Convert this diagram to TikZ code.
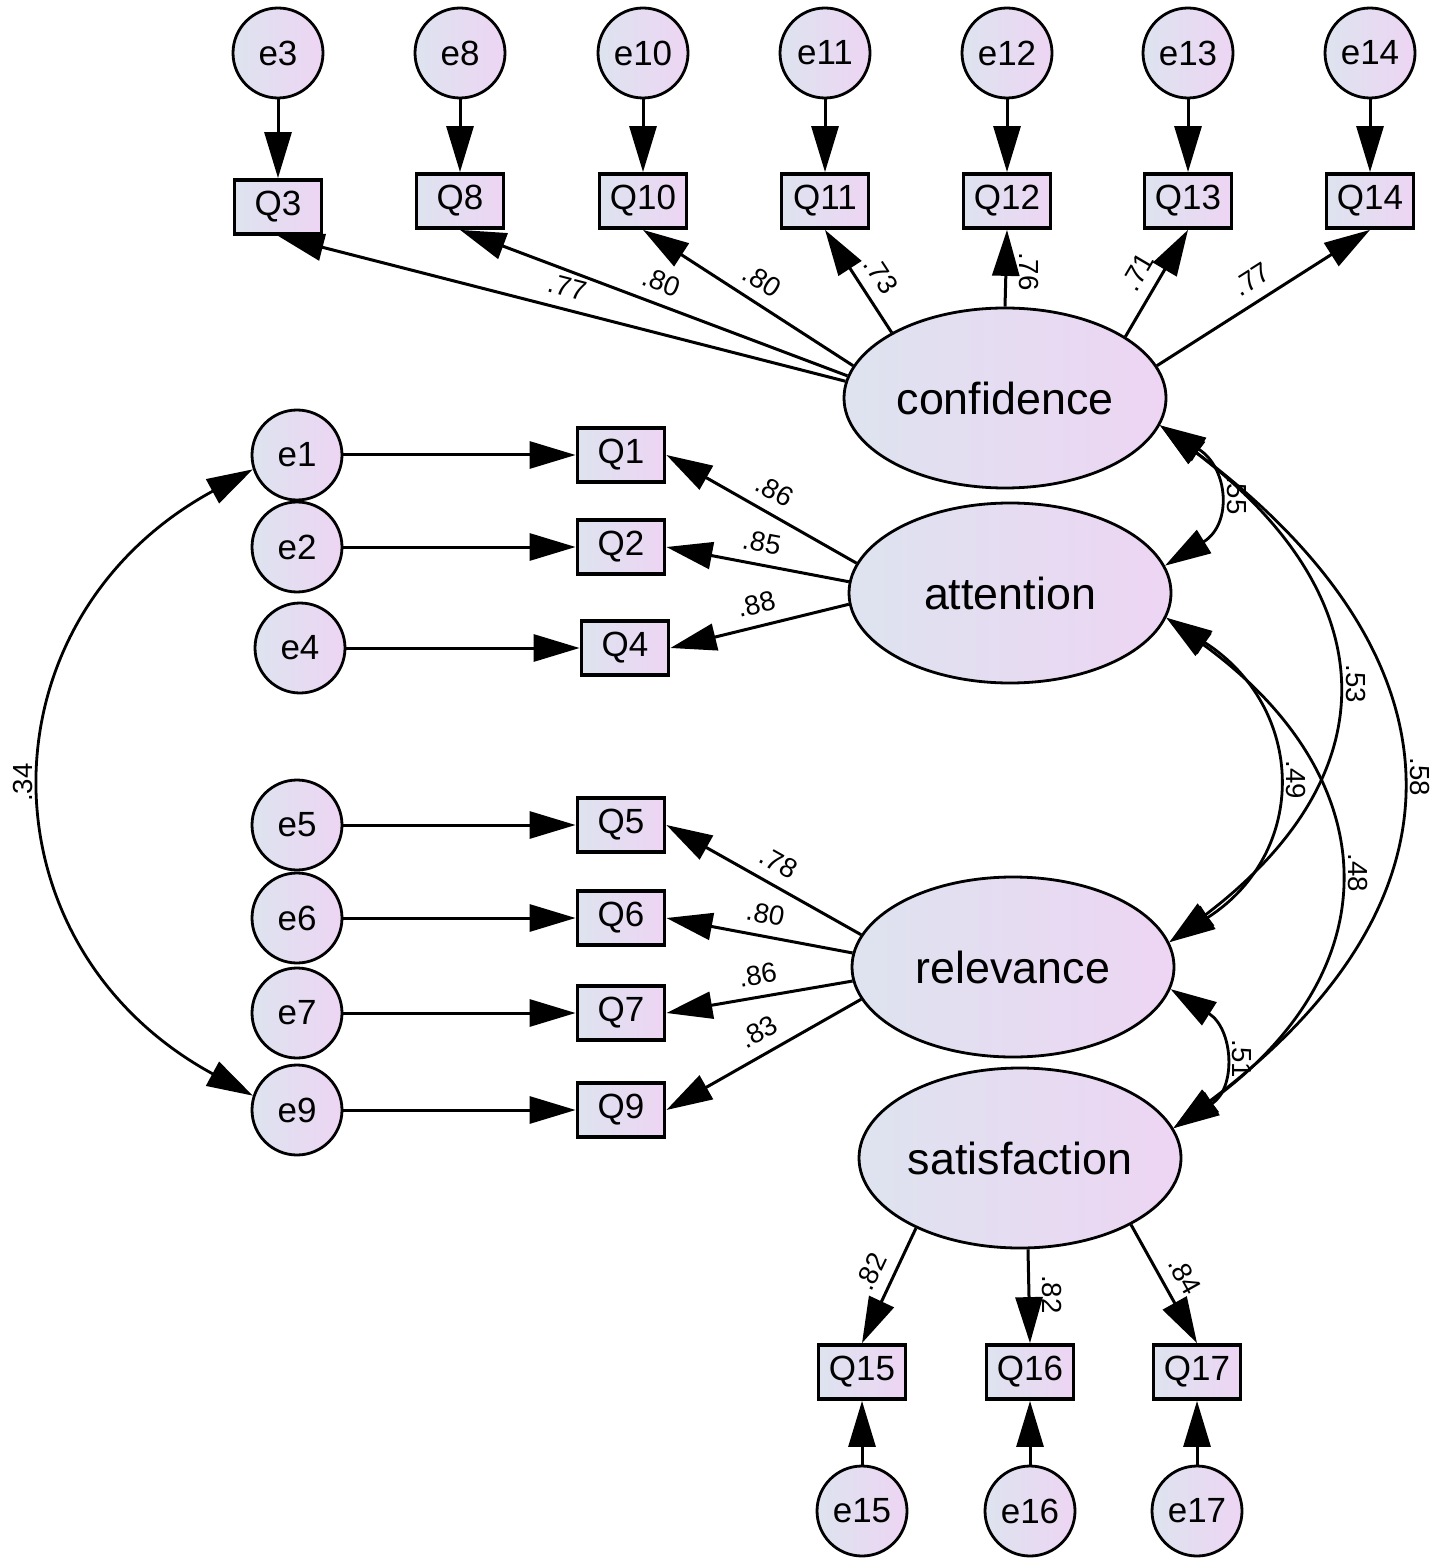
\documentclass[tikz,border=0pt]{standalone}
\usepackage{fontspec}
\setmainfont{Liberation Sans}
\usetikzlibrary{arrows.meta,shapes.geometric}
\definecolor{gl}{RGB}{222,227,239}
\definecolor{gr}{RGB}{237,213,243}
\tikzset{
  shd/.style={left color=gl, right color=gr},
  err/.style={circle, draw, line width=1.4pt, minimum size=45pt, inner sep=0pt, shd, font=\fontsize{17.5}{20}\selectfont},
  obs/.style={rectangle, draw, line width=1.9pt, minimum width=43.5pt, minimum height=27pt, inner sep=0pt, shd, font=\fontsize{17.5}{20}\selectfont},
  lat/.style={ellipse, draw, line width=1.4pt, minimum width=161pt, minimum height=90pt, inner sep=0pt, shd, font=\fontsize{22.4}{26}\selectfont},
  tip/.tip={Triangle[length=23pt,width=13.5pt]},
  arr/.style={line width=1.5pt, -tip},
  cov/.style={line width=1.4pt, tip-tip},
  lbl/.style={font=\fontsize{13.8}{15}\selectfont, inner sep=1.5pt},
  slbl/.style={lbl, sloped, above=4pt},
  vlbl/.style={lbl, rotate=-90, above=4.5pt},
}
\begin{document}
\begin{tikzpicture}[x=0.5pt,y=-0.5pt]
\useasboundingbox (0,0) rectangle (1441,1566);

% latent variables
\node[lat] (confidence) at (1005,398) {confidence};
\node[lat] (attention) at (1010,593) {attention};
\node[lat] (relevance) at (1013,967) {relevance};
\node[lat] (satisfaction) at (1020,1158) {satisfaction};

% top row
\node[err] (e3) at (278,53) {e3};
\node[err] (e8) at (460,53) {e8};
\node[err] (e10) at (643,53) {e10};
\node[err] (e11) at (825,53) {e11};
\node[err] (e12) at (1007,53) {e12};
\node[err] (e13) at (1188,53) {e13};
\node[err] (e14) at (1370,53) {e14};
\node[obs] (Q3) at (278,207) {Q3};
\node[obs] (Q8) at (460,201) {Q8};
\node[obs] (Q10) at (643,201) {Q10};
\node[obs] (Q11) at (825,201) {Q11};
\node[obs] (Q12) at (1007,201) {Q12};
\node[obs] (Q13) at (1188,201) {Q13};
\node[obs] (Q14) at (1370,201) {Q14};

% left side
\node[err] (e1) at (297,455) {e1};
\node[err] (e2) at (297,547) {e2};
\node[err] (e4) at (300,648) {e4};
\node[err] (e5) at (297,825) {e5};
\node[err] (e6) at (297,918) {e6};
\node[err] (e7) at (297,1013) {e7};
\node[err] (e9) at (297,1110) {e9};
\node[obs] (Q1) at (621,455) {Q1};
\node[obs] (Q2) at (621,547) {Q2};
\node[obs] (Q4) at (625,648) {Q4};
\node[obs] (Q5) at (621,825) {Q5};
\node[obs] (Q6) at (621,918) {Q6};
\node[obs] (Q7) at (621,1013) {Q7};
\node[obs] (Q9) at (621,1110) {Q9};

% bottom
\node[obs] (Q15) at (862,1372) {Q15};
\node[obs] (Q16) at (1030,1372) {Q16};
\node[obs] (Q17) at (1197,1372) {Q17};
\node[err] (e15) at (862,1511) {e15};
\node[err] (e16) at (1030,1511) {e16};
\node[err] (e17) at (1197,1511) {e17};

% error arrows
\foreach \e/\q in {e3/Q3,e8/Q8,e10/Q10,e11/Q11,e12/Q12,e13/Q13,e14/Q14,
  e1/Q1,e2/Q2,e4/Q4,e5/Q5,e6/Q6,e7/Q7,e9/Q9,e15/Q15,e16/Q16,e17/Q17}
  \draw[arr] (\e) -- (\q);

% loadings: confidence
\draw[arr] (confidence.174) -- (Q3.south) node[slbl, pos=0.5] {.77};
\draw[arr] (confidence.172) -- (Q8.south) node[slbl, pos=0.5] {.80};
\draw[arr] (confidence.168.5) -- (Q10.south) node[slbl, pos=0.49] {.80};
\draw[arr] (confidence.150.6) -- (Q11.south) node[slbl, pos=0.44] {.73};
\draw[arr] (confidence.90) -- (Q12.south) node[vlbl, pos=0.46] {.76};
\draw[arr] (confidence.27.7) -- (Q13.south) node[slbl, pos=0.5] {.71};
\draw[arr] (confidence.12) -- (Q14.south) node[slbl, pos=0.5] {.77};

% loadings: attention
\draw[arr] (attention.169) -- (Q1.east) node[slbl, pos=0.49] {.86};
\draw[arr] (attention.176) -- (Q2.east) node[slbl, pos=0.5] {.85};
\draw[arr] (attention.184) -- (Q4.east) node[slbl, pos=0.49] {.88};

% loadings: relevance
\draw[arr] (relevance.168) -- (Q5.east) node[slbl, pos=0.48] {.78};
\draw[arr] (relevance.175) -- (Q6.east) node[slbl, pos=0.49] {.80};
\draw[arr] (relevance.185) -- (Q7.east) node[slbl, pos=0.49] {.86};
\draw[arr] (relevance.192) -- (Q9.east) node[slbl, pos=0.47] {.83};

% loadings: satisfaction
\draw[arr] (satisfaction.214) -- (Q15.north) node[slbl, pos=0.46] {.82};
\draw[arr] (satisfaction.-85.5) -- (Q16.north) node[vlbl, pos=0.48] {.82};
\draw[arr] (satisfaction.-31.3) -- (Q17.north) node[slbl, pos=0.52] {.84};

% covariances
\draw[cov] (confidence.-10) .. controls +(68,42) and +(68,-42) .. (attention.10)
  node[vlbl, pos=0.5] {.55};
\draw[cov] (confidence.-10) .. controls +(224,170) and +(224,-170) .. (relevance.9)
  node[vlbl, pos=0.5] {.53};
\draw[cov] (confidence.-10) .. controls +(307,230) and +(307,-230) .. (satisfaction.11)
  node[vlbl, pos=0.5] {.58};
\draw[cov] (attention.-9) .. controls +(140,90) and +(140,-90) .. (relevance.9)
  node[vlbl, pos=0.5] {.49};
\draw[cov] (attention.-9) .. controls +(220,160) and +(220,-160) .. (satisfaction.11)
  node[vlbl, pos=0.5] {.48};
\draw[cov] (relevance.-8) .. controls +(63,40) and +(63,-40) .. (satisfaction.11)
  node[vlbl, pos=0.5] {.51};
\draw[cov] (e1.198) .. controls +(-276,150) and +(-276,-150) .. (e9.162)
  node[lbl, pos=0.5, rotate=90, above=4.5pt] {.34};
\end{tikzpicture}
\end{document}
